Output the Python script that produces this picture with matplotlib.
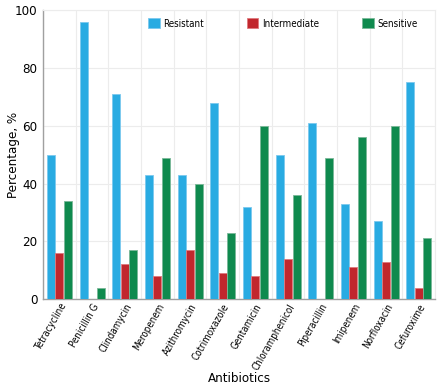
import numpy as np
import matplotlib
matplotlib.use("Agg")
import matplotlib.pyplot as plt
from matplotlib import font_manager

names = {f.name for f in font_manager.fontManager.ttflist}
condensed = [f for f in font_manager.fontManager.ttflist
             if f.name == "DejaVu Sans" and f.stretch in ("condensed", "semi-condensed", 400)]
if "Liberation Sans Narrow" in names:
    plt.rcParams['font.family'] = ['Liberation Sans Narrow', 'DejaVu Sans']
elif condensed:
    plt.rcParams['font.family'] = ['DejaVu Sans']
    plt.rcParams['font.stretch'] = 'condensed'
else:
    plt.rcParams['font.family'] = ['Roboto', 'DejaVu Sans']

antibiotics = ["Tetracycline", "Penicillin G", "Clindamycin", "Meropenem", "Azithromycin",
               "Cotrimoxazole", "Gentamicin", "Chloramphenicol", "Piperacillin", "Imipenem",
               "Norfloxacin", "Cefuroxime"]
resistant = [50, 96, 71, 43, 43, 68, 32, 50, 61, 33, 27, 75]
intermediate = [16, 0, 12, 8, 17, 9, 8, 14, 0, 11, 13, 4]
sensitive = [34, 4, 17, 49, 40, 23, 60, 36, 49, 56, 60, 21]

fig = plt.figure(figsize=(4.44, 3.89), dpi=100)
ax = fig.add_axes([0.097, 0.231, 0.883, 0.743])

x = np.arange(len(antibiotics))
w = 0.26
ax.bar(x - w, resistant, w * 0.95, color="#29abe2", edgecolor="#7cc9ee", linewidth=0.6, label="Resistant", zorder=3)
ax.bar(x, intermediate, w * 0.95, color="#c1272d", edgecolor="#e07a7e", linewidth=0.6, label="Intermediate", zorder=3)
ax.bar(x + w, sensitive, w * 0.95, color="#0f8a4e", edgecolor="#7ab898", linewidth=0.6, label="Sensitive", zorder=3)

ax.set_xlim(-0.5, len(antibiotics) - 0.5)
ax.set_ylim(0, 100)
ax.set_yticks([0, 20, 40, 60, 80, 100])
ax.set_xticks(x)
ax.set_xticklabels(antibiotics, rotation=60, ha="right", rotation_mode="anchor", fontsize=7)
ax.tick_params(axis="y", labelsize=9.5, length=0, pad=4)
ax.tick_params(axis="x", length=0, pad=2)

ax.set_xticks(np.arange(-0.5, len(antibiotics)), minor=True)
ax.grid(True, which="minor", axis="x", color="#ececec", linewidth=0.8, zorder=0)
ax.grid(True, which="major", axis="y", color="#ececec", linewidth=0.8, zorder=0)
ax.tick_params(which="minor", length=0)

for s in ["top", "right"]:
    ax.spines[s].set_color("#ececec")
for s in ["left", "bottom"]:
    ax.spines[s].set_color("#a0a0a0")
    ax.spines[s].set_linewidth(1.0)

ax.set_xlabel("Antibiotics", fontsize=9.5, va="top")
ax.xaxis.set_label_coords(0.5, -0.253)
ax.set_ylabel("Percentage, %", fontsize=9.5)
ax.yaxis.set_label_coords(-0.06, 0.5)

fig.legend(loc="upper left", bbox_to_anchor=(0.333, 0.953), ncol=3, frameon=False,
           fontsize=7, handlelength=1.2, handleheight=1.2, columnspacing=4.4,
           handletextpad=0.4, borderpad=0, borderaxespad=0)

fig.savefig("out.png", dpi=100)
